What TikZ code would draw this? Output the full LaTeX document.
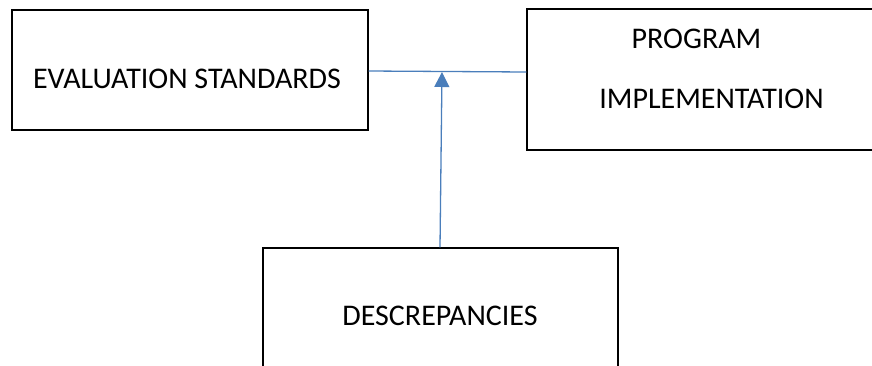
\documentclass[tikz,border=0pt]{standalone}
\usepackage{fontspec}
\setmainfont{Carlito}
\usetikzlibrary{arrows.meta}
\definecolor{linkblue}{HTML}{4A7EBB}
\begin{document}
\begin{tikzpicture}[x=1pt,y=1pt,
  box/.style={draw=black,line width=1.2pt,rectangle,inner sep=0pt},
  lbl/.style={font=\fontsize{30}{34}\selectfont,inner sep=0pt,anchor=base},
  conn/.style={draw=linkblue,line width=1.3pt}]
\useasboundingbox (0,0) rectangle (872,-365);
\clip (0,0) rectangle (872,-365);
\node[box,minimum width=356pt,minimum height=120pt] (eval) at (190,-70) {};
\node[box,minimum width=360pt,minimum height=141pt] (prog) at (707,-79.5) {};
\node[box,minimum width=355pt,minimum height=140pt] (disc) at (440.5,-318) {};
\node[lbl] (t1) at (187,-88.5) {EVALUATION STANDARDS};
\node[lbl] (t2) at (696.5,-48) {PROGRAM};
\node[lbl] (t3) at (711.5,-108.3) {IMPLEMENTATION};
\node[lbl] (t4) at (440,-325.7) {DESCREPANCIES};
\coordinate (j) at (442,-72);
\draw[conn] (eval.east |- 0,-71) -- (prog.west |- 0,-72);
\draw[conn,-{Triangle[width=15pt,length=15pt]}] (disc.north -| 440,0) -- (j);
\end{tikzpicture}
\end{document}
